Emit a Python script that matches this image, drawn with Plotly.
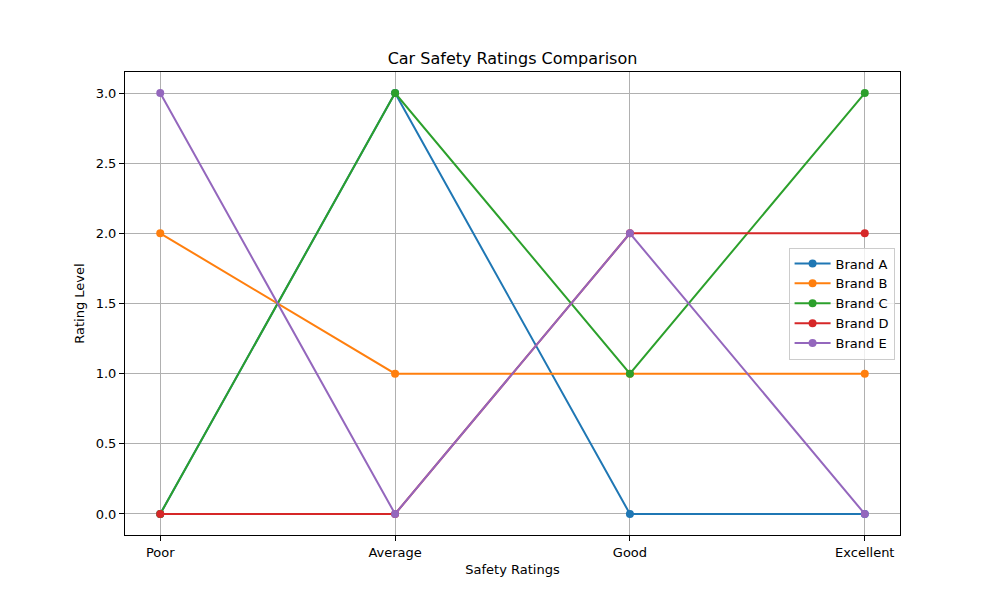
import plotly.graph_objects as go

categories = ["Poor", "Average", "Good", "Excellent"]
brands = ["Brand A", "Brand B", "Brand C", "Brand D", "Brand E"]
brand_a = [0, 3, 0, 0]
brand_b = [2, 1, 1, 1]
brand_c = [0, 3, 1, 3]
brand_d = [0, 0, 2, 2]
brand_e = [3, 0, 2, 0]
colors = ["#1f77b4", "#ff7f0e", "#2ca02c", "#d62728", "#9467bd"]
y_ticks = [0.0, 0.5, 1.0, 1.5, 2.0, 2.5, 3.0]

series = [brand_a, brand_b, brand_c, brand_d, brand_e]
xpos = list(range(len(categories)))

fig = go.Figure()
for name, vals, col in zip(brands, series, colors):
    fig.add_trace(go.Scatter(
        x=xpos, y=vals, mode="lines+markers", name=name,
        line=dict(color=col, width=2),
        marker=dict(color=col, size=8),
    ))

font = "DejaVu Sans"
fig.update_layout(
    width=1000, height=600,
    paper_bgcolor="white", plot_bgcolor="white",
    margin=dict(l=117, r=108, t=64, b=73),
    title=dict(text="Car Safety Ratings Comparison", x=0.5125 - 0.008, xanchor="center",
               y=1 - 50 / 600, yanchor="middle",
               font=dict(family=font, size=16, color="black")),
    font=dict(family=font, size=13, color="black"),
    showlegend=True,
    legend=dict(x=0.993, xanchor="right", y=0.5, yanchor="middle",
                bgcolor="rgba(255,255,255,0.8)", bordercolor="#cccccc", borderwidth=1,
                font=dict(family=font, size=13), tracegroupgap=2,
                itemwidth=36),
    xaxis=dict(
        range=[-0.15, 3.15], tickmode="array", tickvals=xpos, ticktext=categories,
        showgrid=True, gridcolor="#b0b0b0", gridwidth=0.8,
        showline=True, linecolor="black", linewidth=1, mirror=True,
        ticks="outside", ticklen=5, tickcolor="black", zeroline=False,
        title=dict(text="Safety Ratings", font=dict(family=font, size=13), standoff=6),
    ),
    yaxis=dict(
        range=[-0.15, 3.15], tickmode="array", tickvals=y_ticks,
        ticktext=[f"{v:.1f}" for v in y_ticks],
        showgrid=True, gridcolor="#b0b0b0", gridwidth=0.8,
        showline=True, linecolor="black", linewidth=1, mirror=True,
        ticks="outside", ticklen=5, tickcolor="black", zeroline=False,
        title=dict(text="Rating Level", font=dict(family=font, size=13), standoff=8),
    ),
)

fig.write_html("out.html")
